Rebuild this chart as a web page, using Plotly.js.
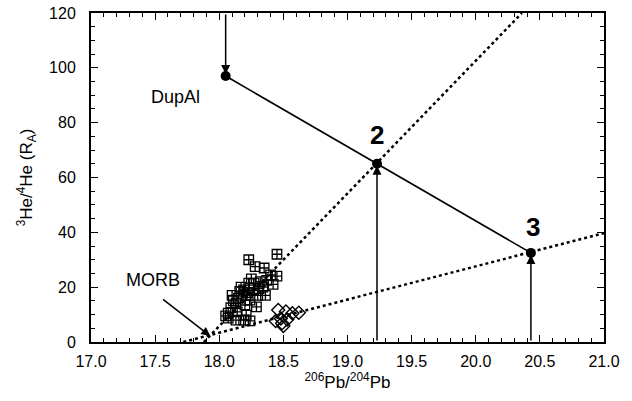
<!DOCTYPE html>
<html>
<head>
<meta charset="utf-8">
<script src="https://cdn.plot.ly/plotly-3.0.1.min.js"></script>
<style>html,body{margin:0;padding:0;background:#fff}#chart{width:632px;height:401px}</style>
</head>
<body>
<div id="chart"></div>
<script>
// Mixing endpoints: DupAl, 2, 3
const mixX = [18.05, 19.23, 20.43];
const mixY = [97, 65, 32.5];
const mixLabels = ["DupAl", "2", "3"];

// Dotted trend lines
const steepX = [17.88, 20.36];
const steepY = [0, 120];
const shallowX = [17.72, 21.0];
const shallowY = [0, 39.7];

// Square symbols (data cluster)
const sqX = [18.45, 18.23, 18.28, 18.35, 18.40, 18.45, 18.37, 18.42, 18.34, 18.23, 18.27,
             18.19, 18.27, 18.21, 18.30, 18.15, 18.24, 18.36, 18.13, 18.20, 18.29, 18.09,
             18.07, 18.14, 18.07, 18.13, 18.19, 18.24, 18.10, 18.17, 18.25, 18.32, 18.22,
             18.16, 18.11, 18.31, 18.05, 18.21];
const sqY = [32, 30, 27.5, 27, 24.5, 24, 22.5, 21, 20, 21.5, 21.5,
             19, 19, 17, 17, 16, 15.3, 17, 14, 13.5, 12.8, 12.5,
             10.5, 11, 8.7, 8, 8, 7.7, 17, 20, 23, 22, 18,
             18.5, 15, 19.5, 9.5, 9.8];

// Diamond symbols
const dmX = [18.46, 18.52, 18.57, 18.62, 18.48, 18.44, 18.49, 18.53, 18.50];
const dmY = [11.7, 11.1, 10.5, 10.7, 8.6, 7.7, 6.8, 8.2, 5.8];

// MORB arrow
const morbTail = [17.55, 16];
const morbHead = [17.93, 2.2];

// Tick labels
const xTicks = [17.0, 17.5, 18.0, 18.5, 19.0, 19.5, 20.0, 20.5, 21.0];
const xTickText = ["17.0", "17.5", "18.0", "18.5", "19.0", "19.5", "20.0", "20.5", "21.0"];
const yTicks = [0, 20, 40, 60, 80, 100, 120];

const FONT = "Liberation Sans, Arial, Helvetica, sans-serif";

const traces = [
  {x: steepX, y: steepY, mode: "lines", line: {color: "#000", width: 2.5, dash: "dot"}, showlegend: false, hoverinfo: "skip"},
  {x: shallowX, y: shallowY, mode: "lines", line: {color: "#000", width: 2.5, dash: "dot"}, showlegend: false, hoverinfo: "skip"},
  {x: [mixX[0], mixX[2]], y: [mixY[0], mixY[2]], mode: "lines", line: {color: "#000", width: 1.6}, showlegend: false, hoverinfo: "skip"},
  {x: sqX, y: sqY, mode: "markers", marker: {symbol: "square-cross-open", size: 9.5, color: "#000", line: {width: 1.3, color: "#000"}}, showlegend: false},
  {x: dmX, y: dmY, mode: "markers", marker: {symbol: "diamond-open", size: 10, color: "#000", line: {width: 1.4, color: "#000"}}, showlegend: false},
  {x: mixX, y: mixY, mode: "markers", marker: {symbol: "circle", size: 10, color: "#000"}, showlegend: false}
];

const annotations = [];
// vertical arrows: DupAl from top, 2 and 3 from bottom
annotations.push({x: mixX[0], y: mixY[0], ax: mixX[0], ay: 120, xref: "x", yref: "y", axref: "x", ayref: "y",
  showarrow: true, arrowhead: 2, arrowsize: 1.2, arrowwidth: 1.5, arrowcolor: "#000", standoff: 2, text: ""});
for (let i = 1; i < 3; i++) {
  annotations.push({x: mixX[i], y: mixY[i], ax: mixX[i], ay: 0, xref: "x", yref: "y", axref: "x", ayref: "y",
    showarrow: true, arrowhead: 2, arrowsize: 1.2, arrowwidth: 1.5, arrowcolor: "#000", standoff: 2, text: ""});
}
annotations.push({x: morbHead[0], y: morbHead[1], ax: morbTail[0], ay: morbTail[1], xref: "x", yref: "y", axref: "x", ayref: "y",
  showarrow: true, arrowhead: 2, arrowsize: 1.2, arrowwidth: 1.5, arrowcolor: "#000", standoff: 0, text: ""});
// text labels
annotations.push({x: 17.66, y: 89.4, xref: "x", yref: "y", text: mixLabels[0], showarrow: false, font: {family: FONT, size: 18, color: "#000"}});
annotations.push({x: 17.48, y: 22.6, xref: "x", yref: "y", text: "MORB", showarrow: false, font: {family: FONT, size: 18, color: "#000"}});
annotations.push({x: mixX[1], y: 75.5, xref: "x", yref: "y", text: "<b>" + mixLabels[1] + "</b>", showarrow: false, font: {family: FONT, size: 26, color: "#000"}});
annotations.push({x: 20.45, y: 42, xref: "x", yref: "y", text: "<b>" + mixLabels[2] + "</b>", showarrow: false, font: {family: FONT, size: 26, color: "#000"}});

const layout = {
  width: 632, height: 401,
  margin: {l: 91, r: 28, t: 13, b: 59},
  paper_bgcolor: "#fff", plot_bgcolor: "#fff",
  font: {family: FONT, size: 16, color: "#000"},
  showlegend: false,
  xaxis: {
    range: [17, 21], tickvals: xTicks, ticktext: xTickText,
    ticks: "inside", ticklen: 7, tickwidth: 1.2, tickcolor: "#000",
    minor: {dtick: 0.1, tick0: 17, ticks: "inside", ticklen: 4, tickcolor: "#000", tickwidth: 1},
    showline: true, linecolor: "#000", linewidth: 2, mirror: "ticks",
    showgrid: false, zeroline: false, ticklabelstandoff: 4,
    tickfont: {family: FONT, size: 16, color: "#000"},
    title: {text: "<sup>206</sup>Pb/<sup>204</sup>Pb", font: {family: FONT, size: 17, color: "#000"}, standoff: 4}
  },
  yaxis: {
    range: [0, 120], tickvals: yTicks,
    ticks: "inside", ticklen: 7, tickwidth: 1.2, tickcolor: "#000",
    minor: {dtick: 5, tick0: 0, ticks: "inside", ticklen: 4, tickcolor: "#000", tickwidth: 1},
    showline: true, linecolor: "#000", linewidth: 2, mirror: "ticks",
    showgrid: false, zeroline: false, ticklabelstandoff: 10,
    tickfont: {family: FONT, size: 16, color: "#000"},
    title: {text: "<sup>3</sup>He/<sup>4</sup>He (R<sub>A</sub>)", font: {family: FONT, size: 17, color: "#000"}, standoff: 12}
  },
  annotations: annotations
};

Plotly.newPlot("chart", traces, layout, {displayModeBar: false, staticPlot: true});
</script>
</body>
</html>
